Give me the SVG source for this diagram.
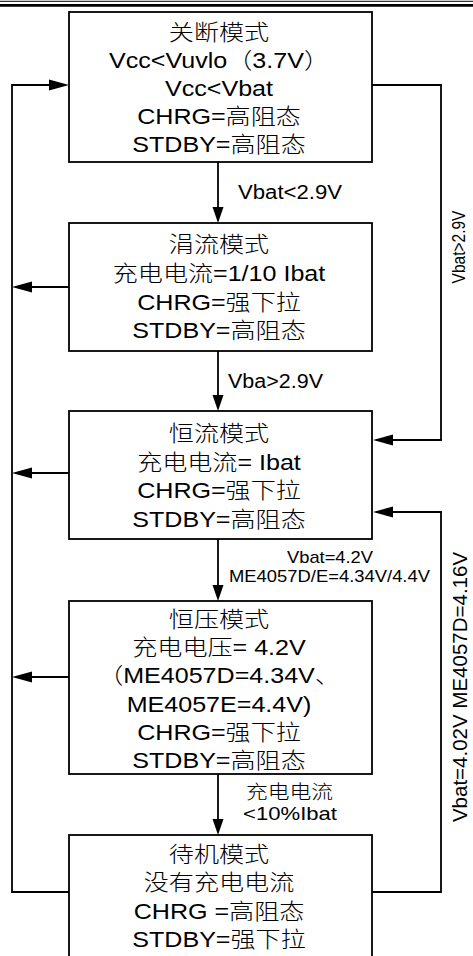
<svg xmlns="http://www.w3.org/2000/svg" width="473" height="956" viewBox="0 0 473 956">
<style>
.box{fill:#fff;stroke:#000;stroke-width:1.8}
.t{font-family:'Liberation Sans','Noto Sans CJK SC',sans-serif;font-size:22px;font-weight:300;text-anchor:middle;fill:#000}
.l{font-family:'Liberation Sans','Noto Sans CJK SC',sans-serif;font-weight:300;fill:#000}
.c{fill:none;stroke:#000;stroke-width:1.8}
</style>
<defs>
<marker id="av" markerUnits="userSpaceOnUse" markerWidth="16" markerHeight="12" viewBox="0 0 16 12" refX="12" refY="6" orient="auto"><path d="M0,0.5 L16,6 L0,11.5 z" fill="#000"/></marker>
<marker id="ah" markerUnits="userSpaceOnUse" markerWidth="20" markerHeight="12" viewBox="0 0 20 12" refX="16" refY="6" orient="auto"><path d="M0,0.5 L20,6 L0,11.5 z" fill="#000"/></marker>
</defs>
<rect x="0" y="0" width="473" height="956" fill="#fff"/>
<g id="header">
<line x1="0" y1="1.3" x2="473" y2="1.3" stroke="#000" stroke-width="1"/>
<line x1="0" y1="5.4" x2="473" y2="5.4" stroke="#000" stroke-width="2.8"/>
</g>
<g id="connectors">
<path class="c" d="M218,162 V219" marker-end="url(#av)"/>
<path class="c" d="M218,351 V407" marker-end="url(#av)"/>
<path class="c" d="M218,539 V597" marker-end="url(#av)"/>
<path class="c" d="M218,774 V831" marker-end="url(#av)"/>
<path class="c" d="M69,892 H12 V85 H65" marker-end="url(#ah)"/>
<path class="c" d="M69,287 H16" marker-end="url(#ah)"/>
<path class="c" d="M69,473 H16" marker-end="url(#ah)"/>
<path class="c" d="M69,677 H16" marker-end="url(#ah)"/>
<path class="c" d="M372,85 H441 V440 H377" marker-end="url(#ah)"/>
<path class="c" d="M372,892 H441 V512 H377" marker-end="url(#ah)"/>
<text class="l" x="238" y="199" font-size="19.5" textLength="104" lengthAdjust="spacingAndGlyphs">Vbat&lt;2.9V</text>
<text class="l" x="228" y="388" font-size="19.5" textLength="95" lengthAdjust="spacingAndGlyphs">Vba&gt;2.9V</text>
<text class="l" x="287" y="563" font-size="17" textLength="86" lengthAdjust="spacingAndGlyphs">Vbat=4.2V</text>
<text class="l" x="229" y="582" font-size="17" textLength="201" lengthAdjust="spacingAndGlyphs">ME4057D/E=4.34V/4.4V</text>
<text class="l" x="246" y="799" font-size="19" textLength="87" lengthAdjust="spacingAndGlyphs">充电电流</text>
<text class="l" x="243" y="820" font-size="19" textLength="94" lengthAdjust="spacingAndGlyphs">&lt;10%Ibat</text>
<text class="l" font-size="15.5" text-anchor="middle" transform="translate(465,247) scale(1.2,1) rotate(-90)">Vbat&gt;2.9V</text>
<text class="l" font-size="20.5" text-anchor="middle" transform="translate(467,687) rotate(-90)">Vbat=4.02V ME4057D=4.16V</text>
</g>
<g id="n1">
<rect class="box" x="69" y="12" width="303" height="150"/>
<g transform="translate(219,0) scale(1.14,1)">
<text class="t" x="0" y="40">关断模式</text>
<text class="t" x="0" y="68.5">Vcc&lt;Vuvlo（3.7V）</text>
<text class="t" x="0" y="96">Vcc&lt;Vbat</text>
<text class="t" x="0" y="124">CHRG=高阻态</text>
<text class="t" x="0" y="152">STDBY=高阻态</text>
</g>
</g>
<g id="n2">
<rect class="box" x="69" y="223" width="303" height="128"/>
<g transform="translate(219,0) scale(1.14,1)">
<text class="t" x="0" y="252">涓流模式</text>
<text class="t" x="0" y="281">充电电流=1/10 Ibat</text>
<text class="t" x="0" y="310">CHRG=强下拉</text>
<text class="t" x="0" y="338">STDBY=高阻态</text>
</g>
</g>
<g id="n3">
<rect class="box" x="69" y="411" width="303" height="128"/>
<g transform="translate(219,0) scale(1.14,1)">
<text class="t" x="0" y="441">恒流模式</text>
<text class="t" x="0" y="470">充电电流= Ibat</text>
<text class="t" x="0" y="498">CHRG=强下拉</text>
<text class="t" x="0" y="527">STDBY=高阻态</text>
</g>
</g>
<g id="n4">
<rect class="box" x="69" y="601" width="303" height="173"/>
<g transform="translate(219,0) scale(1.14,1)">
<text class="t" x="0" y="627">恒压模式</text>
<text class="t" x="0" y="655">充电电压= 4.2V</text>
<text class="t" x="0" y="683">（ME4057D=4.34V、</text>
<text class="t" x="0" y="712">ME4057E=4.4V)</text>
<text class="t" x="0" y="740">CHRG=强下拉</text>
<text class="t" x="0" y="768">STDBY=高阻态</text>
</g>
</g>
<g id="n5">
<rect class="box" x="69" y="835" width="303" height="140"/>
<g transform="translate(219,0) scale(1.14,1)">
<text class="t" x="0" y="862">待机模式</text>
<text class="t" x="0" y="890">没有充电电流</text>
<text class="t" x="0" y="919">CHRG =高阻态</text>
<text class="t" x="0" y="947">STDBY=强下拉</text>
</g>
</g>
</svg>
